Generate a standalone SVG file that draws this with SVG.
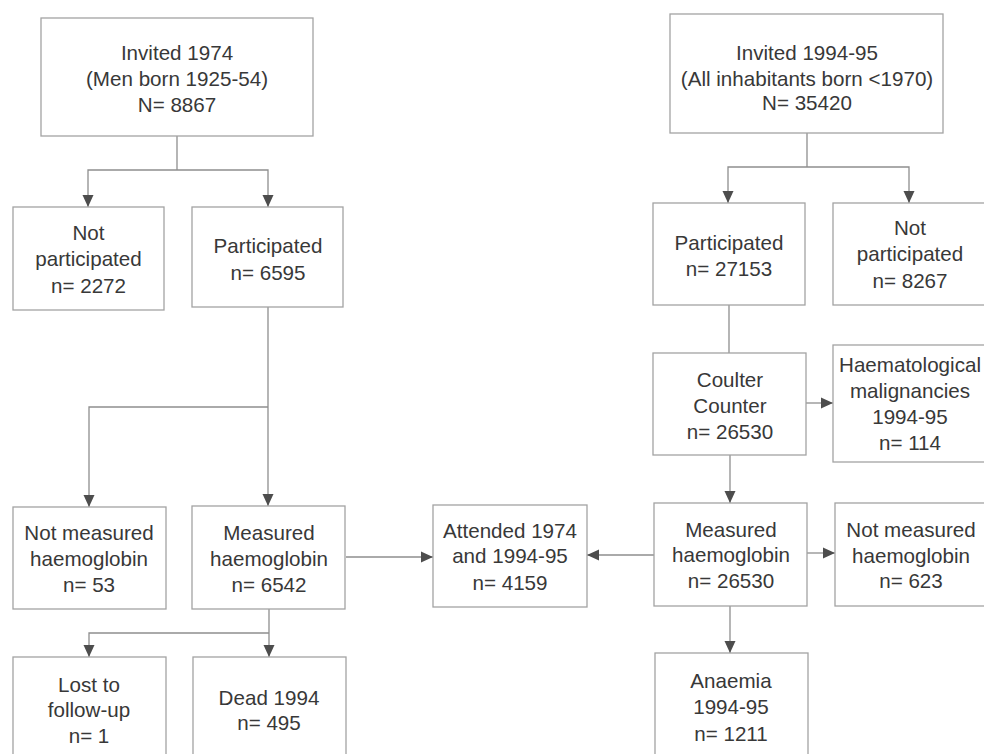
<svg xmlns="http://www.w3.org/2000/svg" width="984" height="754" viewBox="0 0 984 754">
<style>
.box{fill:#fff;stroke:#a3a3a3;stroke-width:1.3}
.t{font-family:"Liberation Sans",Arial,sans-serif;font-size:20.6px;fill:#383838;text-anchor:middle}
.c{fill:none;stroke:#8e8e8e;stroke-width:1.3}
.a{marker-end:url(#arr)}
</style>
<defs>
<marker id="arr" markerUnits="userSpaceOnUse" markerWidth="13" markerHeight="13" viewBox="0 0 13 13" refX="12" refY="6.5" orient="auto">
<path d="M0,1 L12,6.5 L0,12 Z" fill="#4d4d4d"/>
</marker>
</defs>
<rect width="984" height="754" fill="#fff"/>
<g id="connectors">
<path class="c" d="M177,136 V170"/>
<path class="c a" d="M177,170 H88 V207"/>
<path class="c a" d="M177,170 H268 V207"/>
<path class="c" d="M268,307 V407"/>
<path class="c a" d="M268,407 H89 V507"/>
<path class="c a" d="M268,407 V506"/>
<path class="c" d="M269,609 V633"/>
<path class="c a" d="M269,633 H89 V657"/>
<path class="c a" d="M269,633 V657"/>
<path class="c a" d="M346,557 H433"/>
<path class="c" d="M807,133 V167"/>
<path class="c a" d="M807,167 H728 V203"/>
<path class="c a" d="M807,167 H909 V203"/>
<path class="c" d="M729,305 V353"/>
<path class="c a" d="M806,403 H833"/>
<path class="c a" d="M730,455 V503"/>
<path class="c a" d="M654,555 H587"/>
<path class="c a" d="M807,553 H835"/>
<path class="c a" d="M730,606 V653"/>
</g>
<g id="invited1974">
<rect class="box" x="41" y="18" width="272" height="118"/>
<text class="t" x="177" y="60">Invited 1974</text>
<text class="t" x="177" y="86">(Men born 1925-54)</text>
<text class="t" x="177" y="112">N= 8867</text>
</g>
<g id="notparticipated1974">
<rect class="box" x="13" y="207" width="151" height="103"/>
<text class="t" x="88.5" y="240">Not</text>
<text class="t" x="88.5" y="266">participated</text>
<text class="t" x="88.5" y="293">n= 2272</text>
</g>
<g id="participated1974">
<rect class="box" x="192" y="207" width="151" height="100"/>
<text class="t" x="268" y="253">Participated</text>
<text class="t" x="268" y="280">n= 6595</text>
</g>
<g id="notmeasured1974">
<rect class="box" x="13" y="507" width="153" height="102"/>
<text class="t" x="89" y="540">Not measured</text>
<text class="t" x="89" y="566">haemoglobin</text>
<text class="t" x="89" y="592">n= 53</text>
</g>
<g id="measured1974">
<rect class="box" x="192" y="506" width="153" height="103"/>
<text class="t" x="269" y="540">Measured</text>
<text class="t" x="269" y="566">haemoglobin</text>
<text class="t" x="269" y="592">n= 6542</text>
</g>
<g id="lost">
<rect class="box" x="13" y="657" width="153" height="104"/>
<text class="t" x="89" y="692">Lost to</text>
<text class="t" x="89" y="717">follow-up</text>
<text class="t" x="89" y="743">n= 1</text>
</g>
<g id="dead">
<rect class="box" x="193" y="657" width="153" height="104"/>
<text class="t" x="269" y="705">Dead 1994</text>
<text class="t" x="269" y="730">n= 495</text>
</g>
<g id="attended">
<rect class="box" x="433" y="505" width="154" height="102"/>
<text class="t" x="510" y="538">Attended 1974</text>
<text class="t" x="510" y="563">and 1994-95</text>
<text class="t" x="510" y="590">n= 4159</text>
</g>
<g id="invited1994">
<rect class="box" x="670" y="14" width="273" height="119"/>
<text class="t" x="807" y="60">Invited 1994-95</text>
<text class="t" x="807" y="86">(All inhabitants born &lt;1970)</text>
<text class="t" x="807" y="110">N= 35420</text>
</g>
<g id="participated1994">
<rect class="box" x="653" y="203" width="152" height="102"/>
<text class="t" x="729" y="250">Participated</text>
<text class="t" x="729" y="276">n= 27153</text>
</g>
<g id="notparticipated1994">
<rect class="box" x="833" y="203" width="152" height="102"/>
<text class="t" x="910" y="235">Not</text>
<text class="t" x="910" y="261">participated</text>
<text class="t" x="910" y="288">n= 8267</text>
</g>
<g id="coulter">
<rect class="box" x="653" y="353" width="153" height="102"/>
<text class="t" x="730" y="387">Coulter</text>
<text class="t" x="730" y="413">Counter</text>
<text class="t" x="730" y="439">n= 26530</text>
</g>
<g id="haematological">
<rect class="box" x="833" y="345" width="152" height="117"/>
<text class="t" x="910" y="372">Haematological</text>
<text class="t" x="910" y="398">malignancies</text>
<text class="t" x="910" y="424">1994-95</text>
<text class="t" x="910" y="450">n= 114</text>
</g>
<g id="measured1994">
<rect class="box" x="654" y="503" width="153" height="103"/>
<text class="t" x="731" y="537">Measured</text>
<text class="t" x="731" y="562">haemoglobin</text>
<text class="t" x="731" y="588">n= 26530</text>
</g>
<g id="notmeasured1994">
<rect class="box" x="835" y="503" width="150" height="103"/>
<text class="t" x="911" y="537">Not measured</text>
<text class="t" x="911" y="563">haemoglobin</text>
<text class="t" x="911" y="588">n= 623</text>
</g>
<g id="anaemia">
<rect class="box" x="655" y="653" width="153" height="108"/>
<text class="t" x="731" y="688">Anaemia</text>
<text class="t" x="731" y="714">1994-95</text>
<text class="t" x="731" y="741">n= 1211</text>
</g>
</svg>
